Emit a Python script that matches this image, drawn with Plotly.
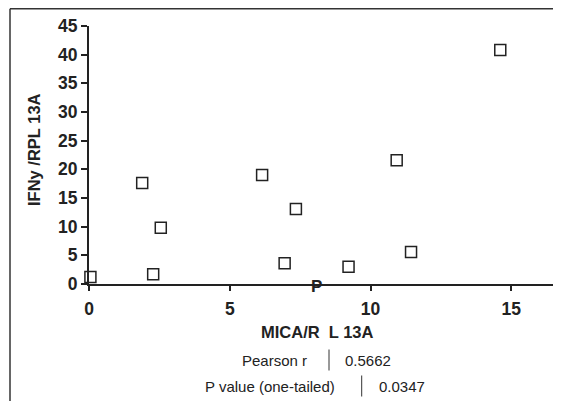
import plotly.graph_objects as go

# Data
mica_rpl13a = [0.05, 1.89, 2.28, 2.55, 6.15, 6.95, 7.35, 9.22, 10.93, 11.44, 14.61]
ifng_rpl13a = [1.2, 17.6, 1.7, 9.8, 19.0, 3.6, 13.1, 3.0, 21.6, 5.6, 40.8]
x_ticks = [0, 5, 10, 15]
y_ticks = [0, 5, 10, 15, 20, 25, 30, 35, 40, 45]
stat_labels = ["Pearson r", "P value (one-tailed)"]
stat_values = ["0.5662", "0.0347"]

OFF = 8  # page body margin
W, H = 561 - OFF, 401 - OFF
L, R, T, B = 89 - OFF, 0, 26 - OFF, 117
PW, PH = W - L - R, H - T - B

def px(x):
    return (x - OFF - L) / PW

def py(y):
    return (H - B - (y - OFF)) / PH

FONT = "Liberation Sans, Arial, sans-serif"
INK = "#222222"

fig = go.Figure()
fig.add_trace(go.Scatter(
    x=mica_rpl13a, y=ifng_rpl13a, mode="markers",
    marker=dict(symbol="square-open", size=11, color=INK, line=dict(width=1.5, color=INK)),
    cliponaxis=False, showlegend=False,
))

annotations = [
    dict(text="IFNy /RPL 13A", x=px(34), y=py(150), textangle=-90,
         font=dict(size=16.5, family=FONT, color=INK, weight="bold")),
    dict(text="MICA/R\u00a0\u00a0L 13A", x=px(317.5), y=py(332),
         font=dict(size=16.5, family=FONT, color=INK, weight="bold")),
    dict(text="P", x=px(316), y=py(286),
         font=dict(size=17, family=FONT, color=INK, weight="bold")),
]
rows_y = [360, 386]
label_right = [308.5, 336.7]
value_left = [343.3, 376.7]
bar_x = [329, 361.7]
for lab, val, yy, lr, vl in zip(stat_labels, stat_values, rows_y, label_right, value_left):
    annotations.append(dict(text=lab, x=px(lr), y=py(yy), xanchor="right",
                            font=dict(size=15, family=FONT, color=INK)))
    annotations.append(dict(text=val, x=px(vl), y=py(yy), xanchor="left",
                            font=dict(size=15, family=FONT, color=INK)))
for a in annotations:
    a.update(xref="paper", yref="paper", showarrow=False)
    a.setdefault("xanchor", "center")
    a.setdefault("yanchor", "middle")

shapes = [
    dict(type="line", x0=px(10), x1=px(W + 20), y0=py(8.75), y1=py(8.75),
         line=dict(color="#333333", width=1.5)),
    dict(type="line", x0=px(10), x1=px(10), y0=py(8.75), y1=py(H + 20),
         line=dict(color="#333333", width=1.5)),
]
for bx, yy in zip(bar_x, rows_y):
    shapes.append(dict(type="line", x0=px(bx), x1=px(bx), y0=py(yy - 10.5), y1=py(yy + 10.5),
                       line=dict(color="#333333", width=1)))
for s in shapes:
    s.update(xref="paper", yref="paper")

tickfont = dict(size=17.5, family=FONT, color=INK, weight="bold")
fig.update_layout(
    width=W, height=H,
    margin=dict(l=L, r=R, t=T, b=B, pad=0),
    paper_bgcolor="white", plot_bgcolor="white",
    annotations=annotations, shapes=shapes,
    xaxis=dict(range=[0, PW / 28.15], tickvals=x_ticks, showgrid=False, zeroline=False,
               showline=True, linecolor=INK, linewidth=2, ticklabelstandoff=3,
               ticks="outside", ticklen=5, tickwidth=2, tickcolor=INK, tickfont=tickfont),
    yaxis=dict(range=[0, 45], tickvals=y_ticks, showgrid=False, zeroline=False,
               showline=True, linecolor=INK, linewidth=2,
               ticks="outside", ticklen=6, tickwidth=2, tickcolor=INK, tickfont=tickfont),
)

fig.write_html("out.html")
